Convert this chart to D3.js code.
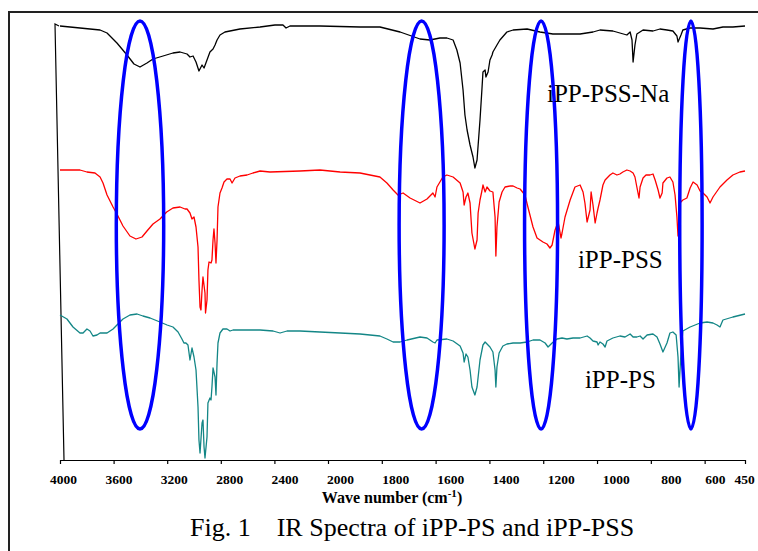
<!DOCTYPE html>
<html>
<head>
<meta charset="utf-8">
<script src="https://cdn.jsdelivr.net/npm/d3@7"></script>
<style>
  body { margin: 0; background: #fff; }
  text { font-family: "Liberation Serif", "Times New Roman", serif; }
</style>
</head>
<body>
<script>
// Spectres IR (transmittance en unités arbitraires, courbes décalées)
// [nombre d'onde cm-1, valeur]
const naSpectrum = [[4000,434],[3925,433],[3776,431],[3701,430],[3649,427],[3575,417],[3500,405],[3448,396],[3403,393],[3351,397],[3306,401],[3231,404],[3157,407],[3104,408],[3052,406],[3030,403],[3007,404],[2985,398],[2963,389],[2940,395],[2925,392],[2903,400],[2881,408],[2858,411],[2843,415],[2828,420],[2806,425],[2769,428],[2657,431],[2507,433],[2396,435],[2336,435],[2313,432],[2284,434],[2060,434],[1881,433],[1807,433],[1732,428],[1658,421],[1621,420],[1584,422],[1558,422],[1535,420],[1521,410],[1509,397],[1498,370],[1491,345],[1483,330],[1472,315],[1461,303],[1454,292],[1446,300],[1435,340],[1428,370],[1424,388],[1416,390],[1413,383],[1405,388],[1398,400],[1390,405],[1387,408],[1372,415],[1361,420],[1335,428],[1312,430],[1260,431],[1212,428],[1164,426],[1112,426],[1063,426],[1015,428],[989,430],[941,429],[915,427],[889,425],[877,428],[870,420],[866,398],[859,415],[852,426],[829,430],[792,429],[766,431],[740,430],[718,429],[703,424],[699,418],[688,425],[681,430],[654,432],[617,432],[569,431],[532,433],[495,433],[450,434]]

const pssSpectrum = [[4000,290],[3925,290],[3851,290],[3799,288],[3739,287],[3701,283],[3679,277],[3649,265],[3604,253],[3575,246],[3530,234],[3478,224],[3433,221],[3388,223],[3351,229],[3306,236],[3254,241],[3204,248],[3157,252],[3104,253],[3067,251],[3052,251],[3030,247],[3015,241],[3000,243],[2985,233],[2970,213],[2963,180],[2955,153],[2948,150],[2940,170],[2933,183],[2918,167],[2914,147],[2903,160],[2896,190],[2888,198],[2873,197],[2866,200],[2858,220],[2851,231],[2843,217],[2836,197],[2828,220],[2821,253],[2806,267],[2791,272],[2776,278],[2754,281],[2731,281],[2716,277],[2694,282],[2657,284],[2604,285],[2560,287],[2507,289],[2433,288],[2209,289],[2060,290],[1955,288],[1881,287],[1807,283],[1781,277],[1758,270],[1740,265],[1721,267],[1695,262],[1658,257],[1632,261],[1610,267],[1602,263],[1595,273],[1573,283],[1558,285],[1535,283],[1509,277],[1498,268],[1494,255],[1487,263],[1480,267],[1472,257],[1465,227],[1454,211],[1446,220],[1442,247],[1435,260],[1428,269],[1424,275],[1416,268],[1409,273],[1398,269],[1387,268],[1379,243],[1376,204],[1372,233],[1364,258],[1353,268],[1342,273],[1323,274],[1312,274],[1297,272],[1286,271],[1268,265],[1257,253],[1238,233],[1223,222],[1201,218],[1186,216],[1175,212],[1167,215],[1156,230],[1145,238],[1141,233],[1134,222],[1130,227],[1119,243],[1100,260],[1082,273],[1063,275],[1052,268],[1045,257],[1037,238],[1026,250],[1022,268],[1015,255],[1007,237],[1000,247],[996,252],[989,260],[978,275],[970,280],[952,285],[941,287],[926,285],[915,286],[904,288],[889,290],[877,289],[866,287],[859,283],[852,273],[844,262],[840,273],[829,282],[818,285],[803,285],[792,286],[784,280],[773,270],[766,262],[758,267],[755,277],[740,282],[729,283],[718,278],[710,265],[703,243],[699,224],[692,257],[681,260],[666,262],[654,272],[643,278],[628,275],[617,269],[606,267],[591,263],[580,257],[569,263],[543,273],[517,280],[495,285],[469,288],[450,289]]

const psSpectrum = [[4000,145],[3948,141],[3903,133],[3851,127],[3828,127],[3799,131],[3776,129],[3754,124],[3724,125],[3701,127],[3649,127],[3604,131],[3575,135],[3530,141],[3478,145],[3425,146],[3381,144],[3328,142],[3254,138],[3201,135],[3157,133],[3119,128],[3090,121],[3075,117],[3060,117],[3045,115],[3030,100],[3015,112],[3000,103],[2985,90],[2970,53],[2963,20],[2955,7],[2940,37],[2933,40],[2925,13],[2918,2],[2903,23],[2896,57],[2881,62],[2873,60],[2866,73],[2858,92],[2843,83],[2836,65],[2828,97],[2821,117],[2806,127],[2784,131],[2754,131],[2731,129],[2709,130],[2657,130],[2507,130],[2410,129],[2358,127],[2306,129],[2209,129],[2060,128],[1955,127],[1881,126],[1807,124],[1781,121],[1758,118],[1732,118],[1706,120],[1658,123],[1632,122],[1610,118],[1602,117],[1595,120],[1558,121],[1535,119],[1509,114],[1498,107],[1494,98],[1487,106],[1480,103],[1472,90],[1465,73],[1454,65],[1446,73],[1435,100],[1424,115],[1416,118],[1398,113],[1387,108],[1379,90],[1376,73],[1372,93],[1364,107],[1350,114],[1335,116],[1312,117],[1286,117],[1260,118],[1238,120],[1212,120],[1193,117],[1182,113],[1167,117],[1149,121],[1130,122],[1112,121],[1089,122],[1063,122],[1037,124],[1026,122],[1015,119],[1000,118],[996,115],[989,118],[978,116],[970,113],[963,119],[941,122],[915,124],[896,123],[877,126],[866,123],[852,123],[840,124],[829,121],[814,125],[792,126],[777,123],[766,116],[755,108],[740,117],[729,127],[718,128],[706,125],[699,103],[695,73],[688,107],[681,129],[654,133],[617,137],[591,138],[569,137],[554,135],[543,133],[532,140],[495,143],[450,146]]

const seriesNames = ["iPP-PSS-Na", "iPP-PSS", "iPP-PS"]
const seriesColors = ["#000000", "#ff0000", "#138686"]
const tickValues = [4000, 3600, 3200, 2800, 2400, 2000, 1800, 1600, 1400, 1200, 1000, 800, 600, 450]
// bandes entourées (centre en cm-1)
const bandCenters = [3403, 1652, 1208, 651]
const bandHalfWidths = [23.7, 22.5, 16.5, 11.2]

const svg = d3.select("body").append("svg")
    .attr("width", 758)
    .attr("height", 551)

// cadre de la figure
svg.append("path")
    .attr("d", "M9,551 L9,12 L758,12")
    .attr("fill", "none")
    .attr("stroke", "#222")
    .attr("stroke-width", 2)

// échelle en x coupée à 2000 cm-1
const x = d3.scaleLinear().domain([4000, 2000, 450]).range([60, 328, 745])
const y = d3.scaleLinear().domain([0, 440]).range([460, 20])
// les chiffres de l'axe sont un peu décalés par rapport aux graduations dans l'original
const xLabel = d3.scaleLinear().domain([4000, 2000, 800, 600, 450]).range([63, 340, 671, 715, 744])

const xAxis = svg.append("g")
    .attr("transform", "translate(0,460)")
    .call(d3.axisBottom(x).tickValues(tickValues).tickSize(4).tickSizeOuter(0).tickFormat(d3.format("d")))
xAxis.select(".domain").attr("stroke", "#000").attr("stroke-width", 1.2)
xAxis.selectAll(".tick line").attr("stroke", "#000").attr("stroke-width", 1.2)
xAxis.selectAll(".tick text")
    .attr("x", d => xLabel(d) - x(d))
    .attr("y", 14)
    .attr("fill", "#000")
    .style("font-family", "'Liberation Serif', serif")
    .style("font-size", "13.5px")
    .style("font-weight", "bold")

// axe y (trait légèrement oblique du scan)
svg.append("path")
    .attr("d", "M59,26 L55,24 L64,460")
    .attr("fill", "none")
    .attr("stroke", "#000")
    .attr("stroke-width", 1.2)

const line = d3.line()
    .x(d => x(d[0]))
    .y(d => y(d[1]))

const spectra = [naSpectrum, pssSpectrum, psSpectrum]
svg.selectAll(".spectrum")
    .data(spectra)
    .enter()
    .append("path")
    .attr("class", "spectrum")
    .attr("d", line)
    .attr("fill", "none")
    .attr("stroke", (d, i) => seriesColors[i])
    .attr("stroke-width", 1.3)
    .attr("stroke-linejoin", "round")

// ellipses bleues
svg.selectAll(".band")
    .data(bandCenters)
    .enter()
    .append("ellipse")
    .attr("class", "band")
    .attr("cx", d => x(d))
    .attr("cy", y(235))
    .attr("rx", (d, i) => bandHalfWidths[i])
    .attr("ry", 204)
    .attr("fill", "none")
    .attr("stroke", "#0000ff")
    .attr("stroke-width", 3.5)

// étiquettes des courbes
const labelPos = [[1186, 358], [1071, 192], [1045, 72]]
svg.selectAll(".label")
    .data(seriesNames)
    .enter()
    .append("text")
    .attr("class", "label")
    .text(d => d)
    .attr("x", (d, i) => x(labelPos[i][0]))
    .attr("y", (d, i) => y(labelPos[i][1]))
    .style("font-size", "25px")
    .attr("fill", "#000")

const title = svg.append("text")
    .attr("x", 392)
    .attr("y", 503)
    .attr("text-anchor", "middle")
    .style("font-size", "16px")
    .style("font-weight", "bold")
title.append("tspan").text("Wave number (cm")
title.append("tspan").text("-1").attr("dy", -6).style("font-size", "11px")
title.append("tspan").text(")").attr("dy", 6)

svg.append("text")
    .attr("x", 190)
    .attr("y", 536)
    .attr("xml:space", "preserve")
    .style("white-space", "pre")
    .style("font-size", "26px")
    .text("Fig. 1    IR Spectra of iPP-PS and iPP-PSS")
</script>
</body>
</html>
